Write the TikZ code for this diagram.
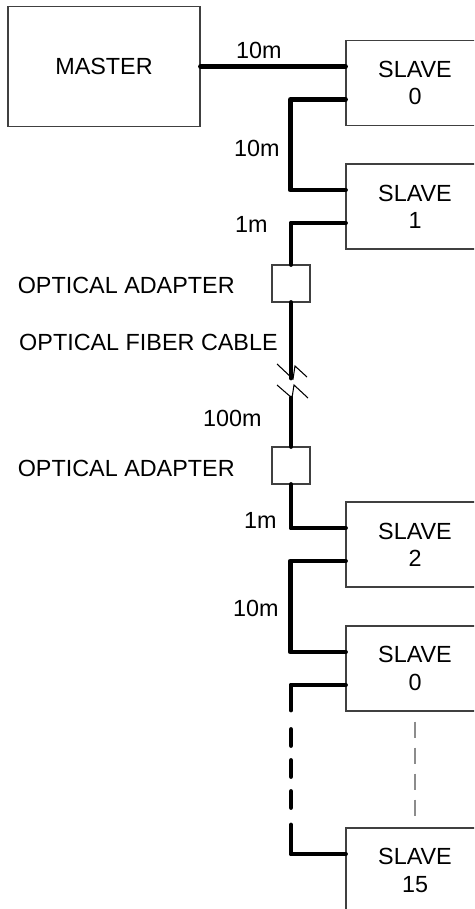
\documentclass[tikz,border=0pt]{standalone}
\usepackage{fontspec}
\setmainfont{Liberation Sans}
\usetikzlibrary{calc}

\begin{document}
\begin{tikzpicture}[
    x=0.02cm, y=-0.02cm,
    font=\fontsize{13.3}{15.5}\selectfont,
    box/.style={
        rectangle,
        draw=black!75,
        line width=0.6pt,
        fill=white,
        align=center
    },
    master/.style={
        box,
        minimum width=3.84cm,
        minimum height=2.4cm
    },
    slave/.style={
        box,
        minimum width=2.76cm,
        minimum height=1.7cm
    },
    adapter/.style={
        box,
        minimum width=0.76cm,
        minimum height=0.74cm
    },
    cable/.style={
        line width=2.8pt,
        line cap=round,
        line join=round
    },
    brkmark/.style={
        line width=0.6pt
    },
    more/.style={
        draw=black!45,
        line width=0.6pt,
        dash pattern=on 0.32cm off 0.2cm
    },
    lenlabel/.style={
        anchor=east,
        inner sep=0pt
    }
]
\useasboundingbox (0,0) rectangle (474,909);
\clip (0,0) rectangle (474,909);

% Units
\node[master] (master) at (104,66.5) {MASTER};
\node[slave] (sl0) at (415,83) {SLAVE\\0};
\node[slave] (sl1) at (415,206.5) {SLAVE\\1};
\node[slave] (sl2) at (415,544.5) {SLAVE\\2};
\node[slave] (sl0b) at (415,668.5) {SLAVE\\0};
\node[slave] (sl15) at (415,870.5) {SLAVE\\15};

% Optical adapters
\node[adapter] (ad1) at (291,283.5) {};
\node[adapter] (ad2) at (291,465.5) {};

% Cable break and dashed run
\coordinate (brk1) at (291,378);
\coordinate (brk2) at (291,398);
\coordinate (d1) at (291,710);
\coordinate (d2) at (291,729.5);
\coordinate (d3) at (291,807.5);
\coordinate (d4) at (291,825);

% Cables
\draw[cable] (master.east) -- ([yshift=0.33cm]sl0.west);
\draw[cable] ([yshift=-0.33cm]sl0.west) -- ++(-55,0) |- ([yshift=0.33cm]sl1.west);
\draw[cable] ([yshift=-0.33cm]sl1.west) -| (ad1.north);
\draw[cable] (ad1.south) -- (brk1);
\draw[cable] (brk2) -- (ad2.north);
\draw[cable] (ad2.south) |- ([yshift=0.33cm]sl2.west);
\draw[cable] ([yshift=-0.33cm]sl2.west) -- ++(-55,0) |- ([yshift=0.33cm]sl0b.west);
\draw[cable] ([yshift=-0.33cm]sl0b.west) -| (d1);
\draw[cable, dash pattern=on 0.32cm off 0.3cm] (d2) -- (d3);
\draw[cable] (d4) |- ([yshift=0.33cm]sl15.west);

% Break marks
\draw[brkmark] (brk1) ++(-14,-14) -- ++(16,15) -- ++(2,-13) -- ++(12,11);
\draw[brkmark] (brk2) ++(-14,-13) -- ++(15,13) -- ++(2,-13) -- ++(14,13);

% More slaves
\draw[more] ([yshift=-0.2cm]sl0b.south) -- ([yshift=0.22cm]sl15.north);

% Labels
\node[lenlabel] (len1) at (282,50) {10m};
\node[lenlabel] (len2) at (280,148) {10m};
\node[lenlabel] (len3) at (268,224) {1m};
\node[lenlabel] (oa1) at (235,285) {OPTICAL ADAPTER};
\node[lenlabel] (fiber) at (278,342) {OPTICAL FIBER CABLE};
\node[lenlabel] (len4) at (262,418) {100m};
\node[lenlabel] (oa2) at (235,468) {OPTICAL ADAPTER};
\node[lenlabel] (len5) at (277,520) {1m};
\node[lenlabel] (len6) at (279,608) {10m};

\end{tikzpicture}
\end{document}
